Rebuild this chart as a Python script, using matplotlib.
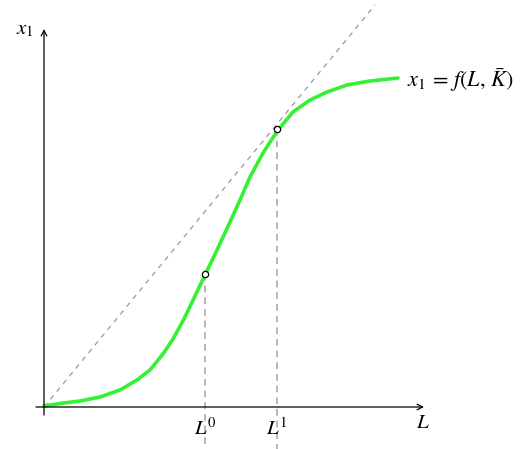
import matplotlib.pyplot as plt

plt.rcParams['mathtext.fontset'] = 'stix'

# curve x1 = f(L, K)
L_vals = [0.0, 1.6, 3.6, 5.6, 7.6, 9.3, 10.6, 11.9, 12.9, 14.0, 15.1, 16.1,
          17.3, 18.6, 19.6, 20.6, 21.9, 23.4, 24.9, 26.6, 28.3, 30.3, 32.6, 35.4]
x1_vals = [0.1, 0.35, 0.6, 1.0, 1.7, 2.7, 3.7, 5.3, 6.8, 8.8, 11.1, 13.2,
           15.7, 18.5, 20.7, 23.0, 25.4, 27.7, 29.5, 30.7, 31.5, 32.2, 32.6, 32.9]

# the two marked points
L_pts = [16.1, 23.3]
x1_pts = [13.3, 27.8]
L_names = [r'$L^0$', r'$L^1$']

# dashed ray through the origin
ray_L = [0.0, 33.1]
ray_x1 = [0.0, 40.2]

fig = plt.figure(figsize=(5.31, 4.49), dpi=100)
ax = fig.add_axes([0, 0, 1, 1])
ax.set_xlim(-4.4, 48.7)
ax.set_ylim(-4.2, 40.7)
ax.axis('off')

# axes with arrows
ax.annotate('', xy=(38.0, 0), xytext=(-0.8, 0),
            arrowprops=dict(arrowstyle='->', lw=0.9, color='black', shrinkA=0, shrinkB=0))
ax.annotate('', xy=(0, 37.8), xytext=(0, -0.8),
            arrowprops=dict(arrowstyle='->', lw=0.9, color='black', shrinkA=0, shrinkB=0))

ax.plot(ray_L, ray_x1, color='#999999', lw=0.9, ls=(0, (4, 4)))

for lx, ly, name in zip(L_pts, x1_pts, L_names):
    ax.plot([lx, lx], [ly, -4.2], color='#aaaaaa', lw=1.2, ls=(0, (4, 3)))
    ax.text(lx, -1.0, name, ha='center', va='top', fontsize=15)

ax.plot(L_vals, x1_vals, color='#33f233', lw=2.6, solid_capstyle='round',
        solid_joinstyle='round')
ax.plot(L_pts, x1_pts, 'o', ms=4.5, mfc='white', mec='black', mew=0.9)

ax.text(36.3, 32.7, r'$x_1\,=\,f(L,\,\bar{K})$', ha='left', va='center', fontsize=16)
ax.text(37.9, -0.5, r'$L$', ha='center', va='top', fontsize=15)
ax.text(-1.0, 37.8, r'$x_1$', ha='right', va='center', fontsize=15)

fig.savefig('out.png', dpi=100)
